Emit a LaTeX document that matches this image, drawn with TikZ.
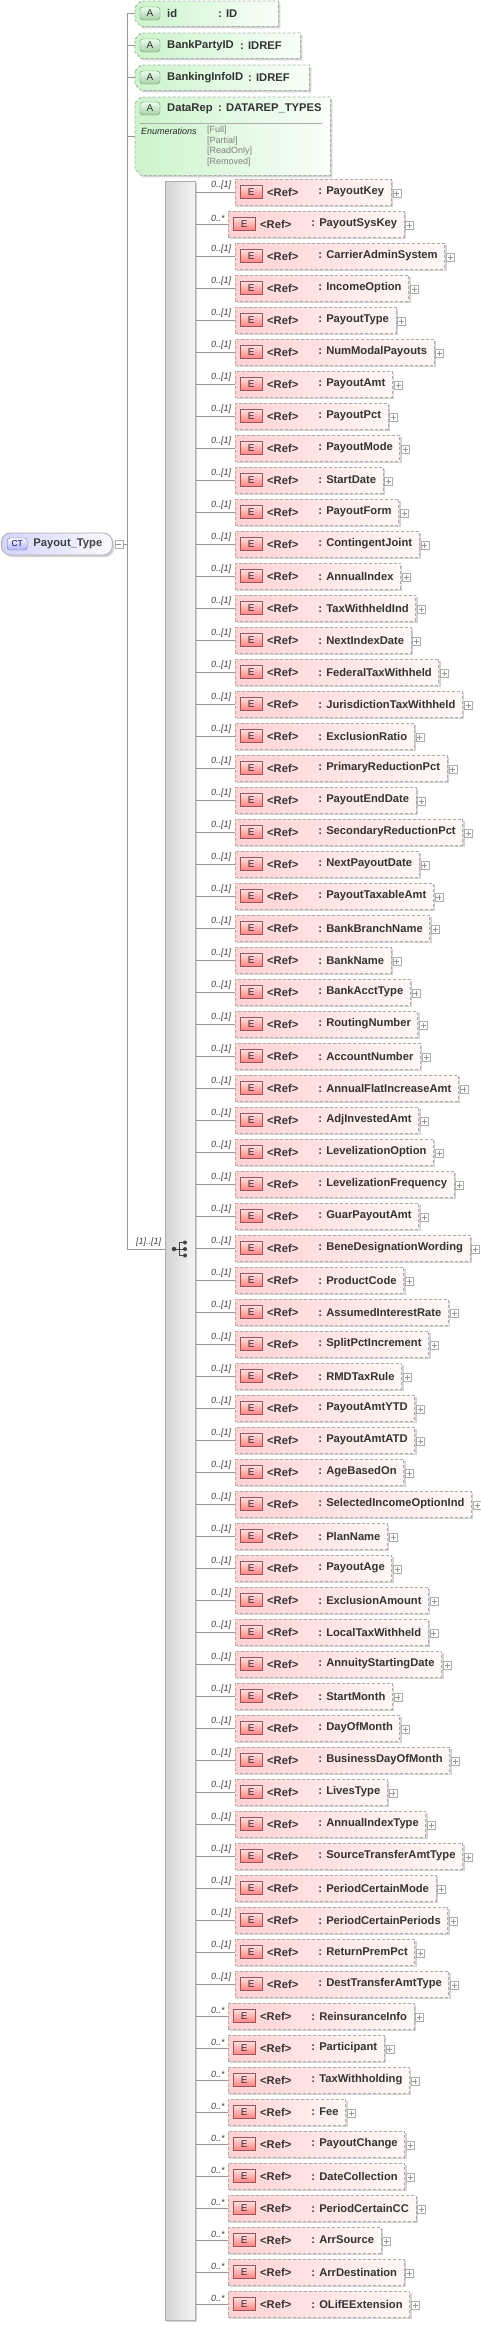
\documentclass[tikz,border=0pt]{standalone}
\usepackage{fontspec}
\setmainfont{Liberation Sans}
\usetikzlibrary{shadows}

\definecolor{framecol}{RGB}{172,172,172}
\definecolor{wirecol}{RGB}{150,150,150}
\definecolor{shadowcol}{RGB}{212,212,212}
\definecolor{elemleft}{RGB}{255,210,210}
\definecolor{elemright}{RGB}{255,247,247}
\definecolor{attrleft}{RGB}{204,243,204}
\definecolor{attrright}{RGB}{248,255,248}
\definecolor{ctleft}{RGB}{212,212,250}
\definecolor{ctright}{RGB}{250,250,255}

\newcommand{\attrframe}[1]{%
  \fill[shadowcol,transform canvas={xshift=2pt,yshift=-2pt}] ([yshift=-6pt]#1.north west) -- ([xshift=6pt]#1.north west) -- (#1.north east) -- (#1.south east) -- ([xshift=6pt]#1.south west) -- ([yshift=6pt]#1.south west) -- cycle;
  \shade[left color=attrleft,right color=attrright] ([yshift=-6pt]#1.north west) -- ([xshift=6pt]#1.north west) -- (#1.north east) -- (#1.south east) -- ([xshift=6pt]#1.south west) -- ([yshift=6pt]#1.south west) -- cycle;
  \draw[framecol,line width=0.8pt,dash pattern=on 3pt off 2pt] ([yshift=-6pt]#1.north west) -- ([xshift=6pt]#1.north west) -- (#1.north east) -- (#1.south east) -- ([xshift=6pt]#1.south west) -- ([yshift=6pt]#1.south west) -- cycle;}

\begin{document}
\begin{tikzpicture}[x=1pt,y=-1pt,
  wire/.style={draw=wirecol,line width=0.8pt},
  elem/.style={anchor=west,draw=framecol,line width=0.8pt,dash pattern=on 3pt off 2pt,
    left color=elemleft,right color=elemright,minimum height=26pt,inner xsep=7pt,inner ysep=0pt,
    font=\fontsize{11.2}{13}\selectfont\bfseries,text=black!80,
    drop shadow={shadow xshift=2pt,shadow yshift=-2pt,fill=shadowcol,opacity=1}},
  ebadge/.style={anchor=west,draw=red!35!black!65,top color=red!12,bottom color=red!50,
    minimum width=22pt,minimum height=13pt,inner sep=0pt,font=\fontsize{10}{11}\selectfont,text=black!80},
  reftxt/.style={anchor=west,inner sep=0pt,font=\fontsize{11.2}{13}\selectfont\bfseries,text=black!80},
  attrtxt/.style={anchor=west,inner sep=0pt,font=\fontsize{11.2}{13}\selectfont\bfseries,text=black!80},
  enumtxt/.style={anchor=west,inner sep=0pt,font=\fontsize{9}{10}\selectfont,text=black!50},
  mult/.style={anchor=south west,inner sep=0pt,font=\fontsize{9}{10}\selectfont\itshape,text=black!75},
  attrarea/.style={anchor=north west,inner sep=0pt},
  abadge/.style={draw=green!30!black!60,top color=green!8,bottom color=green!45!black!35,rounded corners=3pt,
    minimum width=20pt,minimum height=13pt,inner sep=0pt,font=\fontsize{10}{11}\selectfont,text=black!80},
  ctbox/.style={anchor=west,draw=framecol,line width=0.8pt,rounded corners=9pt,left color=ctleft,right color=ctright,
    minimum height=22pt,inner xsep=5pt,inner ysep=0pt,font=\fontsize{11.2}{13}\selectfont\bfseries,text=black!75,
    drop shadow={shadow xshift=2pt,shadow yshift=-2pt,fill=shadowcol,opacity=1}},
  ctbadge/.style={anchor=west,draw=blue!40!black!55,top color=ctright,bottom color=blue!30,rounded corners=3pt,
    minimum width=20pt,minimum height=12pt,inner sep=0pt,font=\fontsize{8.5}{9}\selectfont,text=blue!40!black},
  seqbox/.style={anchor=north west,draw=framecol,line width=0.8pt,left color=black!17,right color=black!4,
    minimum width=30pt,minimum height=2139pt,inner sep=0pt,
    drop shadow={shadow xshift=2pt,shadow yshift=-2pt,fill=shadowcol,opacity=1}},
  plusbox/.style={anchor=west,draw=framecol,fill=white,minimum size=8pt,inner sep=0pt,
    path picture={\draw[wirecol,line width=0.6pt] ([xshift=-2.5pt]path picture bounding box.center) -- ([xshift=2.5pt]path picture bounding box.center)
      ([yshift=-2.5pt]path picture bounding box.center) -- ([yshift=2.5pt]path picture bounding box.center);}},
  minusbox/.style={anchor=west,draw=framecol,fill=white,minimum size=8pt,inner sep=0pt,
    path picture={\draw[wirecol,line width=0.6pt] ([xshift=-2.5pt]path picture bounding box.center) -- ([xshift=2.5pt]path picture bounding box.center);}}]
\useasboundingbox (0,0) rectangle (481,2326);

% attributes
\node[attrarea,minimum width=143pt,minimum height=25pt] (aid) at (135,1) {};
\node[attrarea,minimum width=165pt,minimum height=25pt] (abank) at (135,33) {};
\node[attrarea,minimum width=174pt,minimum height=25pt] (ainfo) at (135,65) {};
\node[attrarea,minimum width=195pt,minimum height=78pt] (arep) at (135,97) {};
\attrframe{aid}
\attrframe{abank}
\attrframe{ainfo}
\attrframe{arep}

\node[abadge] (aidA) at (150,13.5) {A};
\node[attrtxt] (aidN) at (167,13.5) {id};
\node[attrtxt] (aidT) at (218,13.5) {: ID};
\node[abadge] (abankA) at (150,45.5) {A};
\node[attrtxt] (abankN) at (167,45.5) {BankPartyID};
\node[attrtxt] (abankT) at (240,45.5) {: IDREF};
\node[abadge] (ainfoA) at (150,77.5) {A};
\node[attrtxt] (ainfoN) at (167,77.5) {BankingInfoID};
\node[attrtxt] (ainfoT) at (248,77.5) {: IDREF};
\node[abadge] (arepA) at (150,108.5) {A};
\node[attrtxt] (arepN) at (167,108.5) {DataRep};
\node[attrtxt] (arepT) at (218,108.5) {: DATAREP\_TYPES};
\draw[framecol,line width=0.6pt] (140,123) -- (322,123);
\node[enumtxt,text=black!85,font=\fontsize{9}{10}\selectfont\itshape] (arepE) at (141,131) {Enumerations};
\foreach \v [count=\j] in {Full,Partial,ReadOnly,Removed}
  \node[enumtxt] (arepV\j) at (207,{130+10.7*(\j-1)}) {[\v]};

% complex type and trunk
\node[ctbox] (ct) at (1,544) {\hspace*{27pt}Payout\_Type\hspace*{5pt}};
\node[ctbadge] (ctB) at ([xshift=6pt]ct.west) {CT};
\node[minusbox] (ctM) at ([xshift=2pt]ct.east) {};
\coordinate (trunk) at (127,13.5);
\coordinate (trunkend) at (127,1249);
\draw[wire] (trunk) -- (trunkend);
\draw[wire] (ctM.east) -- (ctM.east -| trunk);
\draw[wire] (aid.west -| trunk) -- (aid.west);
\draw[wire] (abank.west -| trunk) -- (abank.west);
\draw[wire] (ainfo.west -| trunk) -- (ainfo.west);
\draw[wire] (arep.west -| trunk) -- (arep.west);

% sequence
\node[seqbox] (seqbar) at (165,181) {};
\draw[wire] (trunkend) -- (trunkend -| seqbar.west);
\node[mult] (seqM) at (136,1247) {[1]..[1]};
\draw[black!75,line width=0.8pt] (174,1249) -- (179,1249) (179,1242.5) -- (179,1255.5)
  (179,1242.5) -- (185,1242.5) (179,1249) -- (185,1249) (179,1255.5) -- (185,1255.5);
\fill[black!75] (174,1249) circle (2.2pt) (185,1242.5) circle (2pt) (185,1249) circle (2pt) (185,1255.5) circle (2pt);

% elements
\foreach \nm/\m [count=\k] in {PayoutKey/1,PayoutSysKey/0,CarrierAdminSystem/1,IncomeOption/1,PayoutType/1,
  NumModalPayouts/1,PayoutAmt/1,PayoutPct/1,PayoutMode/1,StartDate/1,PayoutForm/1,ContingentJoint/1,
  AnnualIndex/1,TaxWithheldInd/1,NextIndexDate/1,FederalTaxWithheld/1,JurisdictionTaxWithheld/1,
  ExclusionRatio/1,PrimaryReductionPct/1,PayoutEndDate/1,SecondaryReductionPct/1,NextPayoutDate/1,
  PayoutTaxableAmt/1,BankBranchName/1,BankName/1,BankAcctType/1,RoutingNumber/1,AccountNumber/1,
  AnnualFlatIncreaseAmt/1,AdjInvestedAmt/1,LevelizationOption/1,LevelizationFrequency/1,GuarPayoutAmt/1,
  BeneDesignationWording/1,ProductCode/1,AssumedInterestRate/1,SplitPctIncrement/1,RMDTaxRule/1,
  PayoutAmtYTD/1,PayoutAmtATD/1,AgeBasedOn/1,SelectedIncomeOptionInd/1,PlanName/1,PayoutAge/1,
  ExclusionAmount/1,LocalTaxWithheld/1,AnnuityStartingDate/1,StartMonth/1,DayOfMonth/1,
  BusinessDayOfMonth/1,LivesType/1,AnnualIndexType/1,SourceTransferAmtType/1,PeriodCertainMode/1,
  PeriodCertainPeriods/1,ReturnPremPct/1,DestTransferAmtType/1,ReinsuranceInfo/0,Participant/0,
  TaxWithholding/0,Fee/0,PayoutChange/0,DateCollection/0,PeriodCertainCC/0,ArrSource/0,
  ArrDestination/0,OLifEExtension/0}{
  \pgfmathsetmacro\cy{192+32*(\k-1)}
  \ifnum\m=1 \def\bx{235}\def\ml{0..[1]}\else \def\bx{228}\def\ml{0..*}\fi
  \node[elem] (el\k) at (\bx,\cy) {\hspace*{76pt}: \nm};
  \node[ebadge] (eb\k) at ([xshift=5pt]el\k.west) {E};
  \node[reftxt] (rf\k) at ([xshift=32pt]el\k.west) {<Ref>};
  \node[plusbox] (pl\k) at ([xshift=1pt,yshift=-1pt]el\k.east) {};
  \node[mult] (ml\k) at (211,\cy-2) {\ml};
  \draw[wire] (seqbar.east |- el\k.west) -- (el\k.west);
}
\end{tikzpicture}
\end{document}
